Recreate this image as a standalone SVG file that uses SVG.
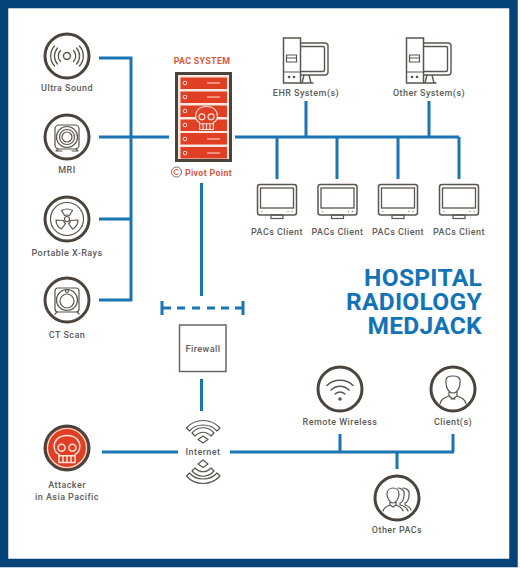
<svg xmlns="http://www.w3.org/2000/svg" width="520" height="571" viewBox="0 0 520 571">
<style>
.t{font-family:"Roboto","Liberation Sans",sans-serif;font-weight:500;font-size:9px;letter-spacing:.45px;fill:#5c5c58;text-anchor:middle}
.p{font-weight:700;font-size:8.800px;letter-spacing:.35px;fill:#d9573f}
.c{fill:none;stroke:#1b75b5;stroke-width:3}
.r{fill:#fff;stroke:#4a443c;stroke-width:3}
.i{fill:none;stroke:#5a554e;stroke-width:1.2;stroke-linejoin:round;stroke-linecap:round}
.h{font-family:"Roboto","Liberation Sans",sans-serif;font-weight:700;font-size:24.500px;letter-spacing:.3px;fill:#1373b8;text-anchor:end}
.s{fill:#e03f26}
</style>
<defs>
<g id="mon"><rect x="-19.500" y="-15.500" width="39" height="30.500" rx="2.500" fill="#fff" stroke="#5a554e" stroke-width="1.500"/><rect x="-16.500" y="-12" width="33" height="20" fill="none" stroke="#5a554e" stroke-width="1.300"/><rect x="-6" y="15" width="12" height="3.500" fill="none" stroke="#5a554e" stroke-width="1.200"/><g fill="#8a857e"><circle cx="-15" cy="11.500" r=".7"/><circle cx="11" cy="11.500" r=".7"/><circle cx="15" cy="11.500" r=".7"/></g></g>
<g id="pc"><path class="i" d="M-5-20H19a3 3 0 0 1 3 3V9a3 3 0 0 1-3 3H-5M-5-16.500H17a1.500 1.500 0 0 1 1.500 1.500V7a1.500 1.500 0 0 1-1.500 1.500H-5M-2 12L-4 20M3 12L5 20M-5 20H7" style="stroke-width:1.400"/><rect x="-22.500" y="-25" width="17" height="45" fill="#fff" stroke="#5a554e" stroke-width="1.500"/><path class="i" d="M-22.500 9H-5.500M-19.500-8H-9.500V-1H-19.500ZM-19.500-5H-9.500"/><circle cx="-17" cy="14" r="1.300" fill="#5a554e"/><circle cx="-12" cy="14" r="1.300" fill="#5a554e"/></g>
<g id="skull"><path d="M0-10C-6.500-10-9.500-6-9.500-2C-9.500 1-8 3-6 4V10H6V4C8 3 9.500 1 9.500-2C9.500-6 6.500-10 0-10ZM-3 5V10M0 5V10M3 5V10M-6 5H6" stroke-linejoin="round"/><circle cx="-4" cy="-1" r="2.600"/><circle cx="4" cy="-1" r="2.600"/></g>
</defs>
<rect width="520" height="571" fill="#fff"/>
<rect x="4" y="4" width="509.500" height="559" fill="none" stroke="#04427a" stroke-width="8.500"/>

<g id="connectors">
<path class="c" d="M99 58H131V300H99M99 137H169M99 219H131"/>
<path class="c" d="M235 137H459M277 137V179M337 137V179M398 137V179M459 137V179M306 101V137M429 101V137"/>
<path class="c" d="M201.500 183V296M201.500 379V411"/>
<path class="c" d="M162 301V315M243 301V315M162 308H171M177 308H185M192 308H200M207 308H215M221 308H229M235 308H243"/>
<path class="c" d="M102 452H178M230 452H454M340 434V452M453 434V452M397 452V469"/>
</g>

<g id="ultra-sound"><circle class="r" cx="67" cy="56" r="22"/>
<circle class="i" cx="67" cy="56" r="3.500" style="stroke-width:1.400"/>
<path class="i" d="M60.500 50.500a8 8 0 0 0 0 11M73.500 50.500a8 8 0 0 1 0 11M57.500 48a12 12 0 0 0 0 16M76.500 48a12 12 0 0 1 0 16M54.500 46a15 15 0 0 0 0 20M79.500 46a15 15 0 0 1 0 20" style="stroke-width:1.300"/>
<text class="t" x="67" y="91">Ultra Sound</text></g>

<g id="mri"><circle class="r" cx="67" cy="137" r="22"/>
<rect class="i" x="55" y="125" width="24" height="24" rx="4"/><circle class="i" cx="67" cy="137" r="10.500"/><circle class="i" cx="67" cy="137" r="7.500"/><circle class="i" cx="67" cy="137" r="5"/>
<path class="i" d="M58 149l-2 2H62M76 149l2 2H72"/>
<text class="t" x="67" y="173">MRI</text></g>

<g id="portable-x-rays"><circle class="r" cx="67" cy="219" r="22"/><circle class="i" cx="67" cy="219" r="16.500"/>
<circle class="i" cx="67" cy="219" r="2.500"/>
<path class="i" d="M61.500 210.500Q67 207.500 72.500 210.500L69.500 215.500Q67 214.500 64.500 215.500ZM63.500 220.500Q64 222.500 65.500 223.500L61.500 229Q56 226 56 220ZM70.500 220.500Q70 222.500 68.500 223.500L72.500 229Q78 226 78 220Z"/>
<text class="t" x="67" y="256">Portable X-Rays</text></g>

<g id="ct-scan"><circle class="r" cx="67" cy="300" r="22"/>
<rect class="i" x="55" y="288" width="24" height="24" rx="3"/><circle class="i" cx="67" cy="300" r="10.500"/><circle class="i" cx="67" cy="301" r="7"/><circle class="i" cx="67" cy="291" r="1.500"/>
<path class="i" d="M57 312l-2 2M77 312l2 2"/>
<text class="t" x="67" y="338">CT Scan</text></g>

<g id="pac-system">
<text class="t p" x="202" y="64">PAC SYSTEM</text>
<rect x="176.500" y="73.500" width="54" height="87" fill="#fbe9df" stroke="#4a443c" stroke-width="3"/>
<g class="s"><rect x="180.500" y="77.500" width="46.500" height="11.500"/><rect x="180.500" y="91.500" width="46.500" height="11.500"/><rect x="180.500" y="105.500" width="46.500" height="11.500"/><rect x="180.500" y="119.500" width="46.500" height="11.500"/><rect x="180.500" y="133" width="46.500" height="11.500"/><rect x="180.500" y="147" width="46.500" height="11.500"/></g>
<g fill="none" stroke="#fbe3d6" stroke-width="1"><circle cx="185" cy="83" r="1.800"/><circle cx="185" cy="97" r="1.800"/><circle cx="185" cy="111" r="1.800"/><circle cx="185" cy="125" r="1.800"/><circle cx="185" cy="139" r="1.800"/><circle cx="185" cy="153" r="1.800"/><path d="M207 83H220M207 97H220M207 139H220M207 153H220"/></g>
<use href="#skull" transform="translate(206.500 118) scale(1.150)" fill="#e03f26" stroke="#fbe3d6" stroke-width="1"/>
<circle cx="176.500" cy="172" r="5" fill="none" stroke="#8f6a60" stroke-width="1"/><path d="M178.500 170.500a2.500 2.500 0 1 0 0 3" fill="none" stroke="#d9573f" stroke-width="1.100"/>
<text class="t p" x="208.500" y="175.500">Pivot Point</text></g>

<g id="ehr-system"><use href="#pc" x="306" y="63"/><text class="t" x="306" y="96">EHR System(s)</text></g>
<g id="other-system"><use href="#pc" x="429" y="63"/><text class="t" x="429" y="96">Other System(s)</text></g>

<g id="pacs-client-1"><use href="#mon" x="277" y="200"/><text class="t" x="277" y="235">PACs Client</text></g>
<g id="pacs-client-2"><use href="#mon" x="337.500" y="200"/><text class="t" x="337.500" y="235">PACs Client</text></g>
<g id="pacs-client-3"><use href="#mon" x="398" y="200"/><text class="t" x="398" y="235">PACs Client</text></g>
<g id="pacs-client-4"><use href="#mon" x="459" y="200"/><text class="t" x="459" y="235">PACs Client</text></g>

<g id="title"><text class="h"><tspan x="482" y="286">HOSPITAL</tspan><tspan x="482" y="310">RADIOLOGY</tspan><tspan x="482" y="334">MEDJACK</tspan></text></g>

<g id="firewall"><rect x="179.500" y="325" width="46.500" height="46.500" fill="#fff" stroke="#6b665f" stroke-width="1.500"/><text class="t" x="203" y="351.500">Firewall</text></g>

<g id="internet"><text class="t" x="203" y="455">Internet</text>
<path class="i" d="M186.500 428C195 418 211 418 220 428L217 431C210 423 196 423 189.500 431ZM192 433C198 426 208 426 214 433L211 436C206 431 200 431 195 436ZM203 436L198 439.500L203 443L208 439.500Z"/>
<path class="i" d="M186.500 476C195 486 211 486 220 476L217 473C210 481 196 481 189.500 473ZM192 471C198 478 208 478 214 471L211 468C206 473 200 473 195 468ZM203 460L198 464L203 467.500L208 464Z"/></g>

<g id="attacker"><circle cx="67" cy="448" r="22" fill="#e03f26" stroke="#4a443c" stroke-width="3"/><circle cx="67" cy="448" r="19.500" fill="none" stroke="#fbe3d6" stroke-width="1.200"/>
<use href="#skull" transform="translate(67 449) scale(1.350)" fill="#e03f26" stroke="#fbe3d6" stroke-width="1.100"/>
<text class="t" x="67" y="488">Attacker</text><text class="t" x="67" y="500">in Asia Pacific</text></g>

<g id="remote-wireless"><circle class="r" cx="340" cy="389" r="22"/>
<path d="M327 385.500C334 378.500 346 378.500 353 385.500M331 390C336 385 344 385 349 390M335 394C338 391.500 342 391.500 345 394" fill="none" stroke="#5a554e" stroke-width="1.500" stroke-linecap="round"/><circle cx="340" cy="399" r="1.800" fill="#5a554e"/>
<text class="t" x="340" y="425">Remote Wireless</text></g>

<g id="clients"><circle class="r" cx="453" cy="389" r="22"/>
<path class="i" d="M446 383C445 377 449 376 453 376C457 376 461 377 460 383C460 388 457 393 453 393C449 393 446 388 446 383ZM449 392V396C444 398 441 399 440 404M457 392V396C462 398 465 399 466 404M449 396L453 399L457 396M451 399H455"/>
<text class="t" x="453" y="425">Client(s)</text></g>

<g id="other-pacs"><circle class="r" cx="397" cy="498" r="22"/>
<path class="i" d="M387 494C387 490 390 488 393 488C396 488 399 490 399 494C399 498 396 503 393 503C390 503 387 498 387 494ZM390 502V505C386 507 384 507 383 511M396 502V505C400 507 402 507 403 511M390 505L393 507L396 505M398 488C402 488 405 491 404 495C404 499 402 503 400 503V505C404 506 407 507 408 511M403 488C407 488 410 491 409 495C409 499 407 503 405 503V505C408 506 410 507 411 510"/>
<text class="t" x="397" y="533">Other PACs</text></g>
</svg>
